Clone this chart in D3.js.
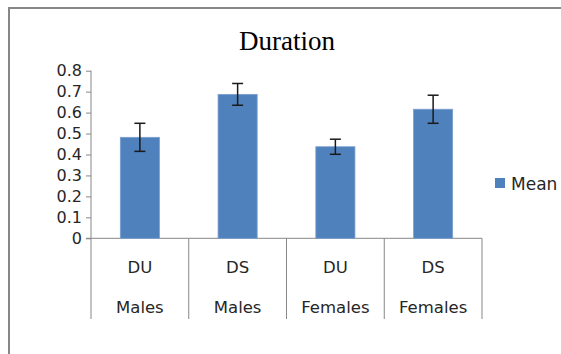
<!DOCTYPE html>
<html>
<head>
<meta charset="utf-8">
<script src="https://cdn.jsdelivr.net/npm/d3@7"></script>
<style>
  html, body { margin: 0; background: #fff; overflow: hidden; }
  svg { display: block; }
</style>
</head>
<body>
<svg width="561" height="354"></svg>
<script>
  // chart data
  const conditions = ["DU", "DS", "DU", "DS"];
  const groups = ["Males", "Males", "Females", "Females"];
  const means = [0.482, 0.687, 0.437, 0.616];
  const errors = [0.067, 0.052, 0.036, 0.067];
  const yTicks = [0, 0.1, 0.2, 0.3, 0.4, 0.5, 0.6, 0.7, 0.8];
  const seriesName = "Mean";

  const svg = d3.select("svg");
  const keys = means.map((d, i) => i);

  // outer frame (runs off the right and bottom edges)
  svg.append("path")
    .attr("d", "M9,360V8H570")
    .attr("fill", "none")
    .attr("stroke", "#878787")
    .attr("stroke-width", 2);

  const y = d3.scaleLinear().domain([0, 0.8]).range([238.3, 70.7]);
  const x = d3.scaleBand().domain(keys).range([91, 482])
    .paddingInner(0.6).paddingOuter(0.3);
  const cell = d3.scaleBand().domain(keys).range([91, 482]);

  // title
  svg.append("text")
    .attr("x", 287).attr("y", 49.5)
    .attr("text-anchor", "middle")
    .style("font-family", "'Liberation Serif', 'Times New Roman', serif")
    .style("font-size", "27px")
    .attr("fill", "#000")
    .text("Duration");

  // y axis
  const yAxis = svg.append("g")
    .attr("transform", "translate(91,0)")
    .call(d3.axisLeft(y).tickValues(yTicks).tickSize(5).tickPadding(4)
      .tickFormat(d => d === 0 ? "0" : d.toFixed(1)));
  yAxis.selectAll("path, line").attr("stroke", "#878787");
  yAxis.select(".domain").attr("d", "M0,70.7V238.3");
  yAxis.selectAll("text")
    .style("font-family", "'DejaVu Sans', sans-serif")
    .style("font-size", "16px")
    .attr("fill", "#262626");

  // x axis line and category separators
  svg.append("line")
    .attr("x1", 86).attr("x2", 482)
    .attr("y1", y(0)).attr("y2", y(0))
    .attr("stroke", "#878787");
  const bounds = keys.map(k => cell(k)).concat([cell(3) + cell.bandwidth()]);
  svg.selectAll(".sep")
    .data(bounds)
    .enter()
    .append("line")
    .attr("class", "sep")
    .attr("x1", d => d).attr("x2", d => d)
    .attr("y1", y(0)).attr("y2", 319)
    .attr("stroke", "#878787");

  // category labels, two rows
  const labelStyle = sel => sel
    .attr("text-anchor", "middle")
    .style("font-family", "'DejaVu Sans', sans-serif")
    .style("font-size", "16.5px")
    .attr("fill", "#262626");
  svg.selectAll(".cond")
    .data(conditions)
    .enter()
    .append("text")
    .attr("class", "cond")
    .attr("x", (d, i) => cell(i) + cell.bandwidth() / 2)
    .attr("y", 272.5)
    .call(labelStyle)
    .text(d => d);
  svg.selectAll(".grp")
    .data(groups)
    .enter()
    .append("text")
    .attr("class", "grp")
    .attr("x", (d, i) => cell(i) + cell.bandwidth() / 2)
    .attr("y", 312.5)
    .call(labelStyle)
    .text(d => d);

  // bars
  svg.selectAll(".bar")
    .data(means)
    .enter()
    .append("rect")
    .attr("class", "bar")
    .attr("x", (d, i) => x(i))
    .attr("width", x.bandwidth())
    .attr("y", d => y(d))
    .attr("height", d => y(0) - y(d))
    .attr("fill", "#4f81bd")
    .attr("stroke", "#7a9fcf")
    .attr("stroke-width", 0.8);

  // error bars
  const eb = svg.selectAll(".err")
    .data(means)
    .enter()
    .append("g")
    .attr("class", "err")
    .attr("stroke", "#1a1a1a")
    .attr("stroke-width", 1.5);
  eb.append("line")
    .attr("x1", (d, i) => x(i) + x.bandwidth() / 2)
    .attr("x2", (d, i) => x(i) + x.bandwidth() / 2)
    .attr("y1", (d, i) => y(d + errors[i]))
    .attr("y2", (d, i) => y(d - errors[i]));
  [1, -1].forEach(s => {
    eb.append("line")
      .attr("x1", (d, i) => x(i) + x.bandwidth() / 2 - 5.5)
      .attr("x2", (d, i) => x(i) + x.bandwidth() / 2 + 5.5)
      .attr("y1", (d, i) => y(d + s * errors[i]))
      .attr("y2", (d, i) => y(d + s * errors[i]));
  });

  // legend
  svg.append("rect")
    .attr("x", 495).attr("y", 178)
    .attr("width", 10).attr("height", 10)
    .attr("fill", "#4f81bd");
  svg.append("text")
    .attr("x", 511).attr("y", 189.5)
    .style("font-family", "'DejaVu Sans', sans-serif")
    .style("font-size", "17px")
    .attr("fill", "#262626")
    .text(seriesName);
</script>
</body>
</html>
